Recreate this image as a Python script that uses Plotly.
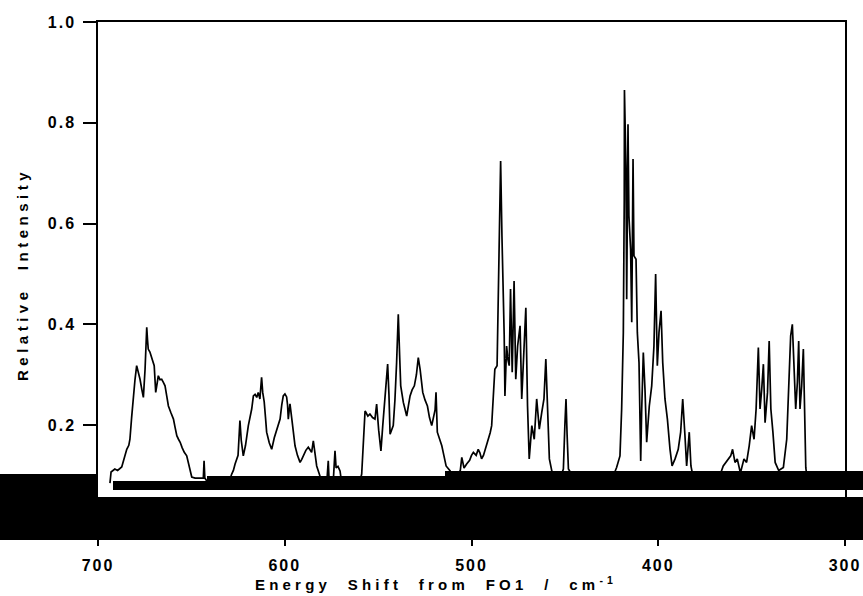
import plotly.graph_objects as go

# ---- data ----
shift_cm = [
    693.6, 693.0, 691.0, 689.5, 687.3, 685.8, 684.6, 683.5, 682.9, 682.0, 681.1, 680.2, 679.3, 678.4, 677.5,
    676.5, 675.7, 674.8, 673.9, 673.5, 673.1, 672.2, 671.3, 670.6, 669.9, 669.1, 668.4, 667.7, 666.8, 665.9,
    665.0, 664.1, 663.2, 662.3, 661.0, 659.6, 658.7, 657.8, 656.9, 656.0, 654.9, 653.8, 652.5, 651.2, 649.8,
    648.0, 645.0, 643.6, 643.2, 642.8, 641.0, 630.0,
    628.4, 627.5, 626.6, 625.0, 624.0, 623.3, 622.2, 621.0, 619.5, 617.7, 616.8, 615.9, 615.0, 614.2, 613.3,
    612.4, 611.8, 611.0, 610.3, 609.7, 608.3, 607.0, 605.6, 604.3, 603.3, 602.5, 601.6, 600.8, 599.9, 599.0,
    598.5, 598.1, 597.6, 597.2, 596.3, 595.4, 594.5, 593.2, 591.8, 590.9, 590.1, 588.7, 587.4, 586.5, 585.6,
    584.7, 583.8, 582.9, 581.5, 580.0, 577.5, 576.7, 576.2, 574.0, 573.1, 572.5, 571.5, 570.4, 569.5, 560.0,
    558.8, 557.8, 557.0, 556.5, 555.5, 554.4, 553.0, 551.7, 550.8, 549.7, 548.5, 547.5, 546.3, 544.9, 544.2,
    543.6, 541.9, 541.0, 540.1, 539.2, 538.5, 537.9, 536.5, 535.5, 534.7, 533.8, 532.9, 531.8, 530.6, 529.5,
    528.5, 527.5, 526.1, 524.9, 523.6, 522.5, 521.3, 519.5, 519.0, 518.3, 517.0, 515.9, 514.8, 513.6, 511.4,
    510.0, 508.0, 506.0, 505.2, 504.0, 502.6, 501.0, 500.0, 499.0, 497.5, 496.4, 495.5, 494.6, 493.6, 492.8,
    491.0, 490.0, 489.2, 488.3, 487.5, 486.3, 485.3, 484.4, 483.7, 483.0, 482.5, 482.1, 481.2, 480.5, 479.8,
    479.1, 478.2, 477.2, 476.3, 475.3, 474.0, 473.1, 471.9, 470.9, 470.0, 469.1, 467.7, 466.4, 465.1, 463.7,
    462.4, 461.2, 460.2, 459.3, 458.3, 457.0, 455.0, 452.0, 450.8, 450.0, 449.4, 448.8, 448.1, 446.0, 424.0,
    422.3, 420.5, 419.6, 418.7, 418.2, 418.1, 417.3, 416.9, 416.2, 415.7, 414.8, 414.2, 413.5, 413.0, 411.9,
    411.2, 410.3, 409.4, 408.9, 408.0, 407.1, 406.2, 404.8, 403.5, 402.3, 401.4, 400.5, 399.6, 398.5, 397.6,
    396.4, 395.1, 393.7, 392.6, 391.0, 389.3, 388.0, 386.9, 385.7, 384.8, 383.4, 382.5, 381.5, 367.0,
    365.2, 363.4, 361.2, 360.2, 358.9, 357.7, 356.0, 354.1, 352.7, 351.3, 350.0, 348.7, 347.6, 346.4, 345.5,
    344.6, 343.7, 342.8, 341.5, 340.6, 339.7, 338.6, 337.4, 335.5, 333.0, 331.2, 330.0, 329.1, 328.2, 327.3,
    326.4, 325.5, 324.8, 324.1, 323.2, 322.3, 321.6, 321.0, 320.5, 318.0,
]
intensity = [
    0.085, 0.107, 0.113, 0.110, 0.117, 0.135, 0.152, 0.160, 0.172, 0.215, 0.258, 0.290, 0.318, 0.305, 0.291,
    0.270, 0.255, 0.311, 0.394, 0.370, 0.351, 0.345, 0.335, 0.325, 0.318, 0.265, 0.285, 0.298, 0.290, 0.291,
    0.285, 0.278, 0.258, 0.238, 0.225, 0.212, 0.195, 0.179, 0.172, 0.166, 0.155, 0.146, 0.139, 0.118, 0.097,
    0.095, 0.095, 0.095, 0.129, 0.095, 0.085, 0.085,
    0.103, 0.110, 0.123, 0.140, 0.209, 0.170, 0.139, 0.160, 0.199, 0.232, 0.258, 0.261, 0.255, 0.265, 0.252,
    0.295, 0.265, 0.246, 0.215, 0.186, 0.165, 0.152, 0.175, 0.192, 0.205, 0.212, 0.240, 0.258, 0.262, 0.256,
    0.240, 0.212, 0.230, 0.242, 0.215, 0.185, 0.159, 0.140, 0.126, 0.132, 0.139, 0.150, 0.156, 0.150, 0.146,
    0.169, 0.140, 0.119, 0.103, 0.085, 0.085, 0.129, 0.085, 0.090, 0.149, 0.115, 0.118, 0.109, 0.085, 0.085,
    0.103, 0.170, 0.228, 0.225, 0.218, 0.222, 0.215, 0.212, 0.242, 0.190, 0.149, 0.200, 0.258, 0.321, 0.260,
    0.182, 0.199, 0.250, 0.324, 0.420, 0.340, 0.278, 0.245, 0.230, 0.218, 0.238, 0.258, 0.270, 0.278, 0.300,
    0.334, 0.310, 0.265, 0.250, 0.238, 0.215, 0.199, 0.230, 0.265, 0.186, 0.170, 0.159, 0.140, 0.119, 0.109,
    0.095, 0.100, 0.110, 0.136, 0.115, 0.123, 0.130, 0.140, 0.146, 0.140, 0.152, 0.145, 0.133, 0.140, 0.149,
    0.172, 0.185, 0.199, 0.250, 0.311, 0.318, 0.503, 0.724, 0.576, 0.470, 0.380, 0.258, 0.357, 0.330, 0.318,
    0.470, 0.305, 0.486, 0.291, 0.357, 0.397, 0.252, 0.357, 0.433, 0.238, 0.133, 0.199, 0.172, 0.252, 0.192,
    0.225, 0.252, 0.331, 0.225, 0.133, 0.109, 0.100, 0.100, 0.113, 0.200, 0.252, 0.180, 0.113, 0.100, 0.100,
    0.116, 0.139, 0.232, 0.384, 0.648, 0.865, 0.714, 0.450, 0.797, 0.615, 0.549, 0.404, 0.728, 0.536, 0.529,
    0.384, 0.324, 0.129, 0.225, 0.344, 0.271, 0.166, 0.238, 0.278, 0.357, 0.500, 0.318, 0.384, 0.427, 0.324,
    0.252, 0.212, 0.152, 0.119, 0.133, 0.152, 0.186, 0.252, 0.179, 0.119, 0.186, 0.119, 0.100, 0.100,
    0.119, 0.129, 0.139, 0.152, 0.126, 0.133, 0.105, 0.133, 0.126, 0.159, 0.199, 0.172, 0.232, 0.354, 0.232,
    0.271, 0.321, 0.205, 0.265, 0.367, 0.232, 0.186, 0.126, 0.110, 0.116, 0.172, 0.278, 0.377, 0.400, 0.331,
    0.232, 0.285, 0.367, 0.232, 0.278, 0.351, 0.218, 0.116, 0.100, 0.100,
]

x_ticks = [700, 600, 500, 400, 300]
x_tick_labels = ["700", "600", "500", "400", "300"]
y_ticks = [0.2, 0.4, 0.6, 0.8, 1.0]
y_tick_labels = ["0.2", "0.4", "0.6", "0.8", "1.0"]

x_title = "Energy  Shift  from  FO1  /  cm<sup>-1</sup>"
y_title = "Relative  Intensity"

FONT = "Liberation Sans, Arial, Helvetica, sans-serif"


def spaced(t, ls):
    return f'<span style="letter-spacing:{ls}px">{t}</span>'


fig = go.Figure()
fig.add_trace(go.Scatter(
    x=shift_cm, y=intensity, mode="lines",
    line=dict(color="black", width=1.7),
    hoverinfo="skip", showlegend=False,
))

W, H = 863, 596
L, R, T, B = 98, 18, 22, 59
pw, ph = W - L - R, H - T - B


def px_x(p):
    return (p - L) / pw


def px_y(p):
    return (H - B - p) / ph


# scanning artefact: black bands at the bottom of the figure
bands = [
    (0, 863, 497, 540),
    (0, 97, 474, 497),
    (113, 863, 481, 490),
    (207, 863, 476, 481.5),
    (445, 863, 471, 476.5),
]
shapes = []
for x0, x1, y0, y1 in bands:
    shapes.append(dict(type="rect", xref="paper", yref="paper",
                       x0=px_x(x0), x1=px_x(x1), y0=px_y(y1), y1=px_y(y0),
                       fillcolor="black", line=dict(width=0), layer="above"))

fig.update_layout(
    width=W, height=H, autosize=False,
    margin=dict(l=L, r=R, t=T, b=B, pad=0, autoexpand=False),
    paper_bgcolor="white", plot_bgcolor="white",
    font=dict(family=FONT, color="black", size=16, weight="bold"),
    shapes=shapes,
    xaxis=dict(
        range=[700, 300], showgrid=False, zeroline=False, automargin=False,
        showline=True, linecolor="black", linewidth=1.5, mirror=True,
        ticks="outside", ticklen=7, tickwidth=1.5, tickcolor="black",
        tickvals=x_ticks, ticktext=[spaced(t, 2) for t in x_tick_labels],
        tickfont=dict(family=FONT, size=16, color="black", weight="bold"),
        ticklabelstandoff=6,
    ),
    yaxis=dict(
        range=[-0.022, 1.0], showgrid=False, zeroline=False, automargin=False,
        showline=True, linecolor="black", linewidth=1.5, mirror=True,
        ticks="outside", ticklen=13, tickwidth=1.5, tickcolor="black",
        tickvals=y_ticks, ticktext=[spaced(t, 2) for t in y_tick_labels],
        tickfont=dict(family=FONT, size=16, color="black", weight="bold"),
        ticklabelstandoff=4,
    ),
    annotations=[
        dict(text=spaced(x_title, 4.2), xref="paper", yref="paper",
             x=px_x(436), y=px_y(583), xanchor="center", yanchor="middle",
             showarrow=False, font=dict(family=FONT, size=15, color="black", weight="bold")),
        dict(text=spaced(y_title, 4.5), xref="paper", yref="paper",
             x=px_x(22), y=px_y(275), xanchor="center", yanchor="middle", textangle=-90,
             showarrow=False, font=dict(family=FONT, size=15, color="black", weight="bold")),
    ],
)

fig.write_html(
    "out.html",
    config={"displayModeBar": False, "responsive": False},
    post_script="document.body.style.margin='0';document.body.style.overflow='hidden';",
)
